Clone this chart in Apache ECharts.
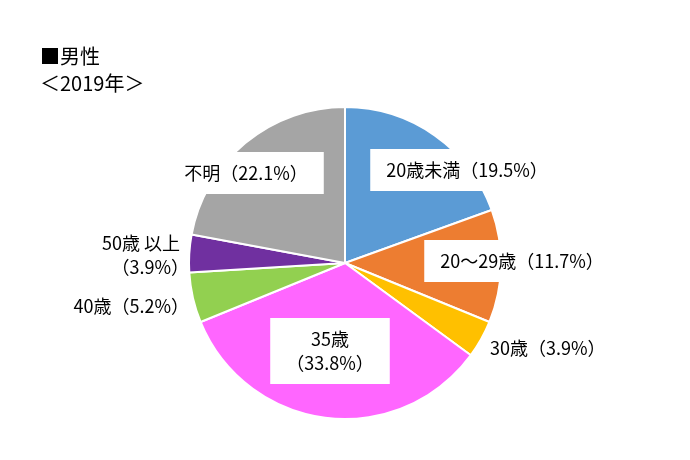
<!DOCTYPE html>
<html>
<head>
<meta charset="utf-8">
<script src="https://cdn.jsdelivr.net/npm/echarts@6/dist/echarts.min.js"></script>
<style>
html,body{margin:0;padding:0;background:#fff;}
#chart{width:690px;height:460px;}
</style>
</head>
<body>
<div id="chart"></div>
<script>
// Age breakdown (men, 2019), percent
const categories = ['20歳未満', '20～29歳', '30歳', '35歳', '40歳', '50歳以上', '不明'];
const shares = [19.5, 11.7, 3.9, 33.8, 5.2, 3.9, 22.1];
const labelTexts = ['20歳未満（19.5%）', '20～29歳（11.7%）', '30歳（3.9%）', '35歳\n（33.8%）', '40歳（5.2%）', '50歳 以上\u2002\n（3.9%）', '不明（22.1%）'];

const colors = ['#5B9BD5', '#ED7D31', '#FFC000', '#FF66FF', '#92D050', '#7030A0', '#A5A5A5'];
// label anchor per slice: [x, y, align]
const labelAnchors = [
  [467, 170, 'center'],
  [522, 261, 'center'],
  [490, 348, 'left'],
  [330, 351, 'center'],
  [189, 306, 'right'],
  [189, 255, 'right'],
  [246, 173, 'center']
];
const boxed = [true, true, false, true, false, false, true];

const FONT = '"Noto Sans CJK JP", sans-serif';

const chart = echarts.init(document.getElementById('chart'), null, {renderer: 'canvas'});
chart.setOption({
  animation: false,
  title: {
    text: '■男性\n＜2019年＞',
    left: 35,
    top: 38,
    textStyle: {fontFamily: FONT, fontSize: 20, fontWeight: 'normal', color: '#000', lineHeight: 27}
  },
  series: [{
    type: 'pie',
    center: [345, 263],
    radius: 156,
    startAngle: 90,
    clockwise: true,
    itemStyle: {borderColor: '#fff', borderWidth: 2},
    labelLine: {show: false},
    label: {show: true, position: 'inside'},
    labelLayout: function (p) {
      const a = labelAnchors[p.dataIndex];
      return {x: a[0], y: a[1], align: a[2], verticalAlign: 'middle'};
    },
    data: categories.map(function (name, i) {
      return {
        name: name,
        value: shares[i],
        itemStyle: {color: colors[i]},
        label: {
          formatter: labelTexts[i],
          fontFamily: FONT,
          fontSize: 18,
          color: '#000',
          lineHeight: 24,
          align: labelAnchors[i][2],
          backgroundColor: boxed[i] ? '#fff' : 'transparent',
          padding: boxed[i] ? [9, 16, 9, 16] : 0
        }
      };
    })
  }]
});
</script>
</body>
</html>
